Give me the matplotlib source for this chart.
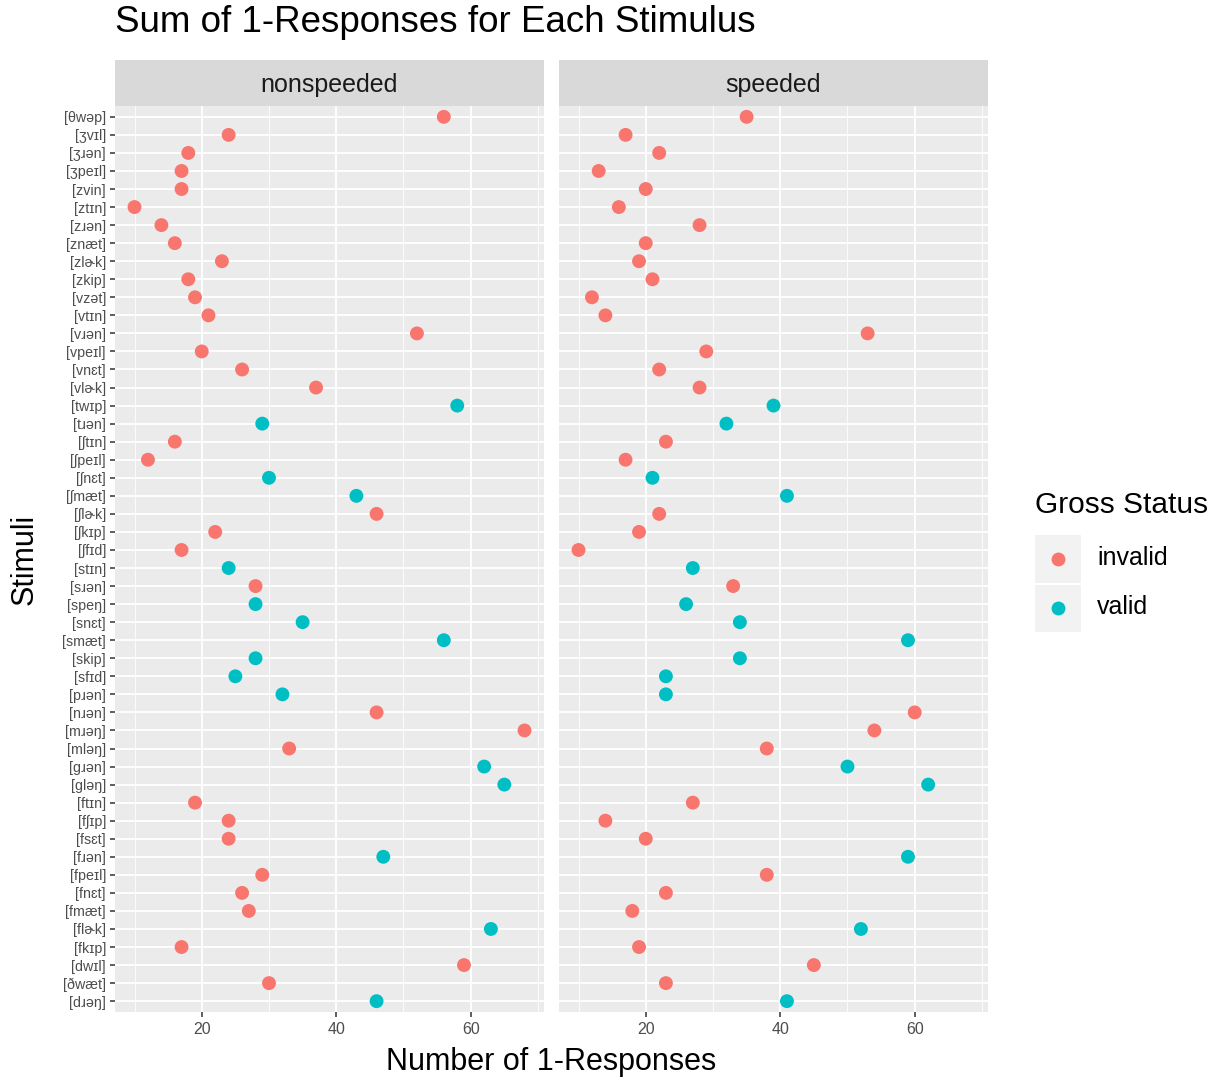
import matplotlib
matplotlib.use('Agg')
import matplotlib.pyplot as plt
from matplotlib.ticker import FixedLocator

plt.rcParams['font.family'] = ['Liberation Sans', 'DejaVu Sans']

# ---------------- data (top to bottom) ----------------
stimuli = ['[θwəp]', '[ʒvɪl]', '[ʒɹən]', '[ʒpeɪl]', '[zvin]', '[ztɪn]', '[zɹən]', '[znæt]',
           '[zlɚk]', '[zkip]', '[vzət]', '[vtɪn]', '[vɹən]', '[vpeɪl]', '[vnɛt]', '[vlɚk]',
           '[twɪp]', '[tɹən]', '[ʃtɪn]', '[ʃpeɪl]', '[ʃnɛt]', '[ʃmæt]', '[ʃlɚk]', '[ʃkɪp]',
           '[ʃfɪd]', '[stɪn]', '[sɹən]', '[speŋ]', '[snɛt]', '[smæt]', '[skip]', '[sfɪd]',
           '[pɹən]', '[nɹən]', '[mɹəŋ]', '[mləŋ]', '[gɹən]', '[gləŋ]', '[ftɪn]', '[fʃɪp]',
           '[fsɛt]', '[fɹən]', '[fpeɪl]', '[fnɛt]', '[fmæt]', '[flɚk]', '[fkɪp]', '[dwɪl]',
           '[ðwæt]', '[dɹəŋ]']

status = ['invalid'] * 16 + ['valid', 'valid', 'invalid', 'invalid', 'valid', 'valid',
          'invalid', 'invalid', 'invalid', 'valid', 'invalid', 'valid', 'valid', 'valid',
          'valid', 'valid', 'valid', 'invalid', 'invalid', 'invalid', 'valid', 'valid',
          'invalid', 'invalid', 'invalid', 'valid', 'invalid', 'invalid', 'invalid', 'valid',
          'invalid', 'invalid', 'invalid', 'valid']

nonspeeded = [56, 24, 18, 17, 17, 10, 14, 16, 23, 18,
              19, 21, 52, 20, 26, 37, 58, 29, 16, 12,
              30, 43, 46, 22, 17, 24, 28, 28, 35, 56,
              28, 25, 32, 46, 68, 33, 62, 65, 19, 24,
              24, 47, 29, 26, 27, 63, 17, 59, 30, 46]

speeded = [35, 17, 22, 13, 20, 16, 28, 20, 19, 21,
           12, 14, 53, 29, 22, 28, 39, 32, 23, 17,
           21, 41, 22, 19, 10, 27, 33, 26, 34, 59,
           34, 23, 23, 60, 54, 38, 50, 62, 27, 14,
           20, 59, 38, 23, 18, 52, 19, 45, 23, 41]

panel_names = ['nonspeeded', 'speeded']
status_levels = ['invalid', 'valid']
status_colors = {'invalid': '#F8766D', 'valid': '#00BFC4'}
x_ticks = [20, 40, 60]
x_minor = [10, 30, 50, 70]

# ---------------- figure ----------------
W, H = 1220, 1080
fig = plt.figure(figsize=(W / 100, H / 100), dpi=100)

def rect(x0, y0, x1, y1):
    return [x0 / W, 1 - y1 / H, (x1 - x0) / W, (y1 - y0) / H]

n = len(stimuli)
ypos = [n - 1 - i for i in range(n)]
allv = nonspeeded + speeded
lo, hi = min(allv), max(allv)
pad = (hi - lo) * 0.05
xlim = (lo - pad, hi + pad)

panel_x = [(115, 544), (559, 988)]
for k, (name, vals) in enumerate(zip(panel_names, [nonspeeded, speeded])):
    x0, x1 = panel_x[k]
    ax = fig.add_axes(rect(x0, 106, x1, 1012))
    ax.set_facecolor('#EBEBEB')
    for s in ax.spines.values():
        s.set_visible(False)
    ax.set_xlim(*xlim)
    ax.set_ylim(-0.6, n - 0.4)
    ax.xaxis.set_major_locator(FixedLocator(x_ticks))
    ax.xaxis.set_minor_locator(FixedLocator(x_minor))
    ax.set_yticks(ypos)
    ax.grid(which='major', color='white', lw=1.3)
    ax.grid(which='minor', axis='x', color='white', lw=0.6)
    ax.set_axisbelow(True)
    ax.tick_params(axis='both', which='major', color='#333333', length=3.5, width=1.1,
                   labelcolor='#4D4D4D')
    ax.tick_params(axis='x', which='minor', length=0)
    ax.tick_params(axis='x', labelsize=11.5, pad=4)
    if k == 0:
        ax.set_yticklabels(stimuli, fontsize=10.3)
        ax.tick_params(axis='y', pad=3)
    else:
        ax.tick_params(axis='y', length=0, labelleft=False)
    cols = [status_colors[s] for s in status]
    ax.scatter(vals, ypos, c=cols, s=100, linewidths=0, zorder=3)

    sax = fig.add_axes(rect(x0, 60, x1, 106))
    sax.set_facecolor('#D9D9D9')
    sax.set_xticks([]); sax.set_yticks([])
    for s in sax.spines.values():
        s.set_visible(False)
    sax.text(0.5, 0.45, name, ha='center', va='center', fontsize=18, color='#1A1A1A',
             transform=sax.transAxes)

fig.text(115 / W, 1 - 23 / H, 'Sum of 1-Responses for Each Stimulus', fontsize=26.5,
         ha='left', va='center', color='black')
fig.text(551 / W, 1 - 1062 / H, 'Number of 1-Responses', fontsize=22, ha='center',
         va='center', color='black')
fig.text(25 / W, 1 - 559 / H, 'Stimuli', fontsize=22, ha='center', va='center',
         rotation=90, color='black')

# legend
fig.text(1035 / W, 1 - 505 / H, 'Gross Status', fontsize=21.5, ha='left', va='center')
lax = fig.add_axes(rect(1035, 535, 1081, 632))
lax.set_facecolor('#F2F2F2')
lax.set_xlim(0, 1); lax.set_ylim(0, 2)
lax.set_xticks([]); lax.set_yticks([])
for s in lax.spines.values():
    s.set_visible(False)
lax.axhline(1, color='white', lw=1.5)
for j, lev in enumerate(status_levels):
    yy = 1.5 - j
    lax.scatter([0.5], [yy], c=status_colors[lev], s=100, linewidths=0)
    fig.text(1097 / W, 1 - (558 + 49 * j) / H, lev, fontsize=18, ha='left', va='center')

fig.savefig('out.png', dpi=100)
